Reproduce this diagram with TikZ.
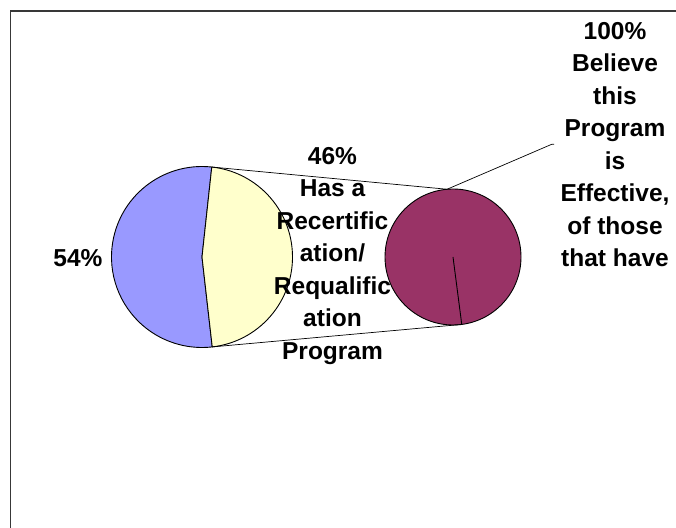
\documentclass[tikz,border=0pt]{standalone}
\usepackage{fontspec}
\setmainfont{Liberation Sans}
\begin{document}
\begin{tikzpicture}[x=1pt,y=1pt,
  pieline/.style={draw=black,line width=0.9pt,line join=round},
  conn/.style={draw=black,line width=0.7pt},
  lbl/.style={inner sep=0pt,align=center,font=\fontsize{24.5}{32.5}\selectfont\bfseries}]
\useasboundingbox[fill=white] (0,0) rectangle (676,527);
% frame
\draw[line width=1.6pt,draw=black!78] (10.5,-10) -- (10.5,516) -- (690,516);
% pie centres
\coordinate (L) at (202,270);
\coordinate (R) at (453,270);
\path (L) ++(83.8:90.5pt) coordinate (Ltop);
\path (L) ++(-83.5:90.5pt) coordinate (Lbot);
\path (R) ++(95:68pt) coordinate (Rtop);
\path (R) ++(-82.6:68pt) coordinate (Rbot);
\coordinate (leadA) at (551.7,382.7);
\coordinate (leadB) at (554,382.7);
% left pie
\filldraw[pieline,fill={rgb,255:red,153;green,153;blue,255}] (L) -- (Ltop) arc[start angle=83.8,end angle=276.5,radius=90.5pt] -- cycle;
\filldraw[pieline,fill={rgb,255:red,255;green,255;blue,204}] (L) -- (Lbot) arc[start angle=-83.5,end angle=83.8,radius=90.5pt] -- cycle;
% right pie
\filldraw[pieline,fill={rgb,255:red,153;green,51;blue,102}] (R) circle[radius=68pt];
\draw[pieline] (R) -- (Rbot);
% connectors
\draw[conn] (Ltop) -- (Rtop);
\draw[conn] (Lbot) -- (Rbot);
\draw[conn] (Rtop) -- (leadA) -- (leadB);
% labels
\node[lbl,anchor=base] (p54) at (78,260.3) {54\%};
\node[lbl,anchor=north] (p46) at (332.5,380) {46\%\\Has a\\Recertific\\ation/\\Requalific\\ation\\Program};
\node[lbl,anchor=north] (p100) at (615,505) {100\%\\Believe\\this\\Program\\is\\Effective,\\of those\\that have};
\end{tikzpicture}
\end{document}
